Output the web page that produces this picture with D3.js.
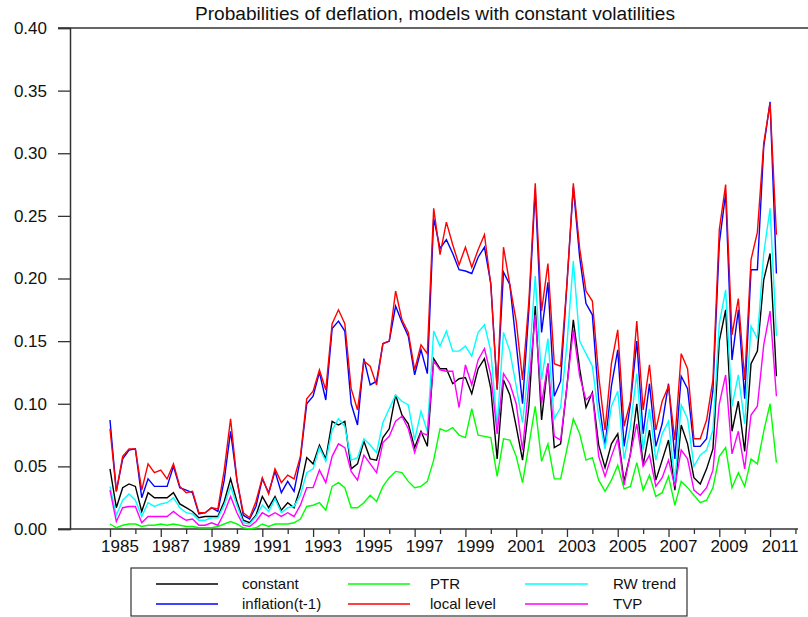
<!DOCTYPE html>
<html>
<head>
<meta charset="utf-8">
<script src="https://cdn.jsdelivr.net/npm/d3@7"></script>
<style>
  html, body { margin: 0; padding: 0; background: #fff; }
  svg { display: block; }
  text { font-family: "Liberation Sans", Arial, Helvetica, sans-serif; fill: #111; }
</style>
</head>
<body>
<svg id="chart" width="808" height="617"></svg>
<script>
// Quarterly probabilities of deflation, 1985Q1 - 2011Q2
const startYear = 1985;
const nQuarters = 106;

const constant = [
  0.048, 0.017, 0.033, 0.036, 0.034, 0.014, 0.029, 0.025, 0.025, 0.025,
  0.029, 0.020, 0.017, 0.014, 0.009, 0.010, 0.010, 0.010, 0.022, 0.040,
  0.022, 0.007, 0.005, 0.011, 0.026, 0.017, 0.026, 0.015, 0.021, 0.017,
  0.033, 0.057, 0.052, 0.067, 0.056, 0.086, 0.083, 0.086, 0.048, 0.052,
  0.070, 0.056, 0.055, 0.073, 0.080, 0.107, 0.091, 0.084, 0.065, 0.078,
  0.066, 0.136, 0.128, 0.128, 0.116, 0.120, 0.121, 0.108, 0.128, 0.136,
  0.112, 0.056, 0.119, 0.107, 0.082, 0.055, 0.098, 0.178, 0.087, 0.132,
  0.065, 0.068, 0.114, 0.167, 0.128, 0.097, 0.109, 0.067, 0.049, 0.068,
  0.076, 0.038, 0.060, 0.100, 0.051, 0.079, 0.039, 0.055, 0.071, 0.031,
  0.083, 0.068, 0.041, 0.036, 0.048, 0.064, 0.150, 0.175, 0.078, 0.102,
  0.062, 0.132, 0.142, 0.199, 0.220, 0.122
];
const inflationLag = [
  0.087, 0.030, 0.056, 0.063, 0.064, 0.025, 0.040, 0.034, 0.034, 0.034,
  0.050, 0.033, 0.031, 0.029, 0.012, 0.013, 0.017, 0.014, 0.039, 0.078,
  0.039, 0.011, 0.008, 0.018, 0.040, 0.029, 0.046, 0.029, 0.038, 0.030,
  0.056, 0.100, 0.106, 0.125, 0.103, 0.160, 0.166, 0.158, 0.100, 0.083,
  0.136, 0.115, 0.118, 0.148, 0.150, 0.178, 0.165, 0.154, 0.123, 0.143,
  0.124, 0.248, 0.224, 0.231, 0.220, 0.207, 0.206, 0.204, 0.217, 0.225,
  0.196, 0.112, 0.205, 0.195, 0.148, 0.100, 0.175, 0.271, 0.157, 0.197,
  0.106, 0.118, 0.196, 0.273, 0.217, 0.180, 0.171, 0.103, 0.066, 0.114,
  0.143, 0.066, 0.100, 0.150, 0.076, 0.116, 0.066, 0.084, 0.116, 0.056,
  0.122, 0.112, 0.066, 0.066, 0.072, 0.111, 0.228, 0.268, 0.135, 0.175,
  0.104, 0.207, 0.207, 0.305, 0.341, 0.204
];
const ptr = [
  0.004, 0.001, 0.003, 0.004, 0.004, 0.002, 0.003, 0.003, 0.004, 0.003,
  0.004, 0.003, 0.002, 0.002, 0.001, 0.001, 0.001, 0.002, 0.004, 0.006,
  0.004, 0.001, 0.000, 0.001, 0.004, 0.002, 0.004, 0.004, 0.004, 0.005,
  0.008, 0.018, 0.019, 0.021, 0.015, 0.034, 0.037, 0.033, 0.017, 0.017,
  0.021, 0.027, 0.022, 0.034, 0.041, 0.046, 0.045, 0.038, 0.033, 0.034,
  0.038, 0.055, 0.080, 0.078, 0.081, 0.075, 0.073, 0.096, 0.075, 0.074,
  0.073, 0.042, 0.072, 0.071, 0.058, 0.037, 0.067, 0.098, 0.054, 0.068,
  0.040, 0.040, 0.064, 0.088, 0.076, 0.055, 0.057, 0.039, 0.030, 0.039,
  0.051, 0.032, 0.034, 0.053, 0.031, 0.043, 0.026, 0.029, 0.042, 0.019,
  0.038, 0.033, 0.027, 0.021, 0.023, 0.033, 0.058, 0.065, 0.033, 0.045,
  0.034, 0.056, 0.052, 0.078, 0.100, 0.053
];
const localLevel = [
  0.080, 0.030, 0.058, 0.064, 0.064, 0.031, 0.052, 0.045, 0.047, 0.040,
  0.052, 0.034, 0.029, 0.030, 0.013, 0.013, 0.017, 0.016, 0.047, 0.088,
  0.039, 0.013, 0.009, 0.022, 0.041, 0.028, 0.048, 0.037, 0.043, 0.040,
  0.058, 0.104, 0.110, 0.127, 0.111, 0.164, 0.175, 0.164, 0.112, 0.095,
  0.134, 0.130, 0.115, 0.148, 0.150, 0.190, 0.167, 0.157, 0.127, 0.147,
  0.140, 0.256, 0.219, 0.245, 0.227, 0.211, 0.225, 0.209, 0.223, 0.235,
  0.195, 0.111, 0.225, 0.195, 0.166, 0.119, 0.182, 0.276, 0.174, 0.212,
  0.132, 0.130, 0.196, 0.276, 0.224, 0.190, 0.182, 0.122, 0.079, 0.132,
  0.159, 0.082, 0.102, 0.166, 0.095, 0.131, 0.079, 0.102, 0.114, 0.071,
  0.140, 0.128, 0.072, 0.072, 0.087, 0.119, 0.239, 0.275, 0.155, 0.184,
  0.119, 0.215, 0.237, 0.308, 0.340, 0.235
];
const rwTrend = [
  0.034, 0.011, 0.023, 0.028, 0.023, 0.010, 0.021, 0.018, 0.020, 0.021,
  0.025, 0.017, 0.013, 0.012, 0.007, 0.007, 0.009, 0.009, 0.019, 0.034,
  0.019, 0.005, 0.004, 0.010, 0.019, 0.014, 0.024, 0.013, 0.017, 0.018,
  0.027, 0.045, 0.048, 0.065, 0.054, 0.079, 0.088, 0.082, 0.055, 0.057,
  0.072, 0.067, 0.061, 0.085, 0.096, 0.107, 0.102, 0.099, 0.071, 0.094,
  0.078, 0.158, 0.146, 0.158, 0.142, 0.142, 0.146, 0.138, 0.157, 0.163,
  0.142, 0.082, 0.157, 0.142, 0.114, 0.085, 0.130, 0.202, 0.119, 0.152,
  0.088, 0.097, 0.148, 0.214, 0.150, 0.140, 0.130, 0.090, 0.064, 0.098,
  0.110, 0.056, 0.082, 0.124, 0.063, 0.096, 0.055, 0.076, 0.086, 0.038,
  0.099, 0.088, 0.050, 0.059, 0.063, 0.079, 0.164, 0.191, 0.098, 0.123,
  0.084, 0.162, 0.152, 0.220, 0.256, 0.154
];
const tvp = [
  0.031, 0.006, 0.017, 0.018, 0.018, 0.005, 0.010, 0.010, 0.010, 0.010,
  0.014, 0.010, 0.007, 0.008, 0.003, 0.003, 0.005, 0.003, 0.013, 0.026,
  0.013, 0.003, 0.002, 0.006, 0.013, 0.010, 0.013, 0.010, 0.013, 0.010,
  0.019, 0.033, 0.033, 0.047, 0.037, 0.058, 0.068, 0.065, 0.046, 0.039,
  0.059, 0.052, 0.045, 0.069, 0.074, 0.086, 0.090, 0.080, 0.061, 0.077,
  0.075, 0.134, 0.127, 0.126, 0.126, 0.097, 0.131, 0.115, 0.135, 0.144,
  0.123, 0.076, 0.124, 0.116, 0.100, 0.063, 0.116, 0.171, 0.100, 0.132,
  0.074, 0.071, 0.114, 0.159, 0.122, 0.103, 0.108, 0.058, 0.042, 0.058,
  0.072, 0.035, 0.060, 0.084, 0.050, 0.059, 0.034, 0.041, 0.055, 0.034,
  0.063, 0.056, 0.031, 0.027, 0.033, 0.047, 0.100, 0.123, 0.060, 0.078,
  0.048, 0.091, 0.098, 0.147, 0.174, 0.106
];

const seriesNames  = ["constant", "inflation(t-1)", "PTR", "local level", "RW trend", "TVP"];
const seriesColors = ["#000000", "#0000ff", "#00ff00", "#ff0000", "#00ffff", "#ff00ff"];
const seriesValues = [constant, inflationLag, ptr, localLevel, rwTrend, tvp];

const yTicks = [0, 0.05, 0.10, 0.15, 0.20, 0.25, 0.30, 0.35, 0.40];
const yearTicks = d3.range(1985, 2013);          // one tick per year
const yearLabels = d3.range(1985, 2012, 2);      // labels on odd years

const title = "Probabilities of deflation, models with constant volatilities";

// ---- layout ----
const svg = d3.select("#chart");
const x = d3.scaleLinear().domain([1983.425, 2012.1]).range([70, 798]);
const y = d3.scaleLinear().domain([0, 0.40]).range([529, 28]);
const dates = d3.range(nQuarters).map(i => startYear + i / 4);

const axisColor = "#333";

// title
svg.append("text")
  .attr("x", 195).attr("y", 20)
  .attr("font-size", 18)
  .attr("textLength", 480)
  .attr("lengthAdjust", "spacingAndGlyphs")
  .text(title);

// top frame line
svg.append("line")
  .attr("x1", 58).attr("x2", 808)
  .attr("y1", y(0.40)).attr("y2", y(0.40))
  .attr("stroke", axisColor).attr("stroke-width", 1.5);

// y axis
const yAxis = svg.append("g")
  .attr("transform", `translate(${x.range()[0]},0)`)
  .call(d3.axisLeft(y).tickValues(yTicks).tickSize(12).tickPadding(11)
        .tickFormat(d3.format(".2f")));
yAxis.select(".domain").attr("stroke", axisColor).attr("stroke-width", 1.5);
yAxis.selectAll(".tick line").attr("stroke", axisColor).attr("stroke-width", 1.3);
yAxis.selectAll(".tick text").attr("font-size", 17).attr("fill", "#111")
  .attr("font-family", "Liberation Sans, Arial, sans-serif");

// x axis
const xAxis = svg.append("g")
  .attr("transform", `translate(0,${y(0)})`)
  .call(d3.axisBottom(x).tickValues(yearTicks).tickSize(8).tickSizeOuter(0)
        .tickFormat(d => yearLabels.includes(d) ? String(d) : ""));
xAxis.select(".domain").remove();
xAxis.append("line")
  .attr("x1", 58).attr("x2", 798).attr("y1", 0).attr("y2", 0)
  .attr("stroke", axisColor).attr("stroke-width", 1.5);
xAxis.selectAll(".tick line")
  .attr("stroke", axisColor).attr("stroke-width", 1.3)
  .attr("y2", d => yearLabels.includes(d) ? 8 : 5);
xAxis.selectAll(".tick text")
  .attr("font-size", 17).attr("fill", "#111")
  .attr("font-family", "Liberation Sans, Arial, sans-serif")
  .attr("dx", 9.5).attr("y", 11);

// series lines
const line = d3.line()
  .x((d, i) => x(dates[i]))
  .y(d => y(d));

svg.append("g").selectAll("path")
  .data(seriesValues)
  .join("path")
  .attr("d", line)
  .attr("fill", "none")
  .attr("stroke", (d, i) => seriesColors[i])
  .attr("stroke-width", 1.4)
  .attr("stroke-linejoin", "miter");

// legend
const legend = svg.append("g");
legend.append("rect")
  .attr("x", 131).attr("y", 568).attr("width", 556).attr("height", 48)
  .attr("fill", "#fff").attr("stroke", axisColor).attr("stroke-width", 1.2);

const colX = [[156, 218, 242], [348, 410, 430], [525, 588, 613]];
const rowY = [584, 604];
seriesNames.forEach((name, i) => {
  const c = Math.floor(i / 2), r = i % 2;
  legend.append("line")
    .attr("x1", colX[c][0]).attr("x2", colX[c][1])
    .attr("y1", rowY[r]).attr("y2", rowY[r])
    .attr("stroke", seriesColors[i]).attr("stroke-width", 1.4);
  legend.append("text")
    .attr("x", colX[c][2]).attr("y", rowY[r] + 5)
    .attr("font-size", 15)
    .text(name);
});
</script>
</body>
</html>
